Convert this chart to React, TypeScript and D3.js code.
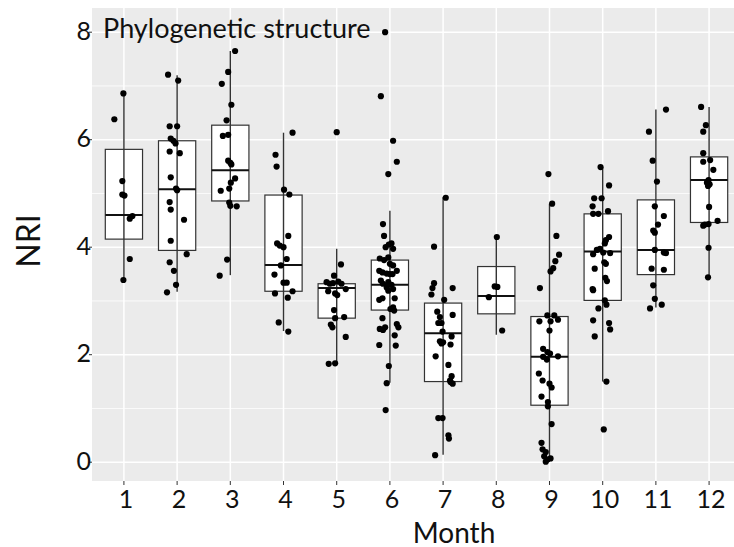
import React from "react";
import * as d3 from "d3";

const months = [1, 2, 3, 4, 5, 6, 7, 8, 9, 10, 11, 12];
const boxQ1 = [4.15, 3.94, 4.86, 3.18, 2.68, 2.83, 1.5, 2.76, 1.06, 3.01, 3.49, 4.46];
const boxMedian = [4.6, 5.08, 5.43, 3.67, 3.24, 3.3, 2.4, 3.09, 1.96, 3.92, 3.95, 5.25];
const boxQ3 = [5.82, 5.98, 6.27, 4.97, 3.32, 3.76, 2.96, 3.64, 2.71, 4.62, 4.88, 5.68];
const whiskerLow = [3.38, 3.17, 3.48, 2.44, 1.83, 1.48, 0.14, 2.37, 0.01, 1.5, 2.88, 3.45];
const whiskerHigh = [6.86, 7.2, 7.65, 6.13, 3.97, 4.68, 4.93, 4.19, 4.81, 5.49, 6.56, 6.61];

const nriValues: number[][] = [
  [6.86, 6.38, 5.23, 4.98, 4.96, 4.58, 4.53, 3.78, 3.39],
  [7.21, 7.1, 6.25, 6.25, 6.02, 5.98, 5.93, 5.78, 5.75, 5.3, 5.09, 5.06, 4.84, 4.7, 4.51, 4.12, 3.87, 3.72, 3.56, 3.3, 3.16],
  [7.65, 7.26, 7.04, 6.65, 6.36, 6.07, 6.09, 5.61, 5.57, 5.54, 5.28, 5.2, 5.09, 5.05, 4.83, 4.77, 4.76, 3.77, 3.47],
  [6.13, 5.72, 5.5, 5.07, 4.98, 4.21, 4.07, 4.03, 4.0, 3.78, 3.66, 3.49, 3.34, 3.34, 3.18, 3.14, 3.06, 2.6, 2.43],
  [6.14, 3.68, 3.47, 3.35, 3.32, 3.33, 3.36, 3.32, 3.22, 3.18, 3.14, 3.11, 2.83, 2.68, 2.7, 2.56, 2.51, 2.33, 1.83, 1.84],
  [8.0, 6.81, 5.98, 5.59, 5.36, 4.43, 4.21, 4.07, 4.05, 4.0, 3.97, 3.81, 3.79, 3.76, 3.69, 3.66, 3.56, 3.53, 3.51, 3.5, 3.5, 3.56,
    3.38, 3.32, 3.35, 3.3, 3.25, 3.19, 3.22, 3.02, 3.05, 3.05, 2.85, 2.82, 2.88, 2.68, 2.48, 2.46, 2.51, 2.57, 2.51, 2.36, 2.18, 2.17,
    1.79, 1.47, 0.97],
  [4.92, 4.01, 3.33, 3.24, 3.12, 3.24, 3.02, 2.8, 2.74, 2.7, 2.59, 2.59, 2.43, 2.34, 2.25, 2.23, 2.21, 2.19, 1.97, 1.81, 1.6, 1.52,
    1.49, 1.46, 0.82, 0.82, 0.5, 0.44, 0.13],
  [4.19, 3.27, 3.26, 3.07, 2.45],
  [5.36, 4.81, 4.21, 3.86, 3.74, 3.61, 3.55, 3.24, 2.73, 2.73, 2.65, 2.62, 2.62, 2.45, 2.11, 2.05, 2.02, 1.96, 1.91, 1.97, 1.65, 1.52,
    1.46, 1.39, 1.22, 1.12, 1.04, 0.71, 0.36, 0.24, 0.19, 0.11, 0.05, 0.07, 0.01],
  [5.49, 5.15, 4.91, 4.91, 4.76, 4.67, 4.62, 4.62, 4.19, 4.13, 4.07, 3.95, 3.97, 3.9, 3.89, 3.87, 3.72, 3.69, 3.6, 3.43, 3.37, 3.22,
    3.2, 3.01, 2.93, 2.86, 2.59, 2.47, 2.64, 2.34, 1.5, 0.61],
  [6.56, 6.15, 5.61, 5.22, 4.76, 4.58, 4.42, 4.31, 4.27, 3.95, 3.9, 3.89, 3.6, 3.58, 3.29, 3.04, 2.86, 2.93],
  [6.61, 6.27, 6.15, 5.75, 5.62, 5.59, 5.44, 5.25, 5.2, 5.17, 5.14, 4.75, 4.49, 4.43, 4.4, 4.42, 3.99, 3.44],
];

// horizontal jitter of each point, in month units
const nriJitter: number[][] = [
  [-0.01, -0.18, -0.03, -0.03, 0.01, 0.16, 0.11, 0.11, -0.01],
  [-0.17, 0.02, -0.14, 0.0, -0.12, -0.07, -0.03, -0.14, 0.05, -0.12, -0.02, 0.0, -0.14, -0.12, 0.13, -0.12, 0.18, -0.14, -0.06, -0.02, -0.19],
  [0.09, -0.04, -0.16, 0.02, -0.07, -0.14, -0.04, -0.04, 0.0, 0.02, 0.09, 0.01, -0.02, -0.18, -0.02, 0.0, 0.12, -0.06, -0.2],
  [0.17, -0.15, -0.13, 0.01, 0.11, 0.09, -0.12, -0.07, 0.0, 0.06, -0.05, -0.17, 0.0, 0.06, 0.17, -0.16, 0.08, -0.09, 0.09],
  [0.0, 0.08, -0.05, -0.19, -0.13, -0.07, 0.03, 0.09, 0.17, -0.16, -0.03, 0.01, -0.05, -0.03, 0.14, -0.11, -0.08, 0.17, -0.15, -0.03],
  [-0.09, -0.17, 0.06, 0.13, -0.03, -0.13, -0.11, 0.03, -0.02, -0.08, 0.06, -0.03, -0.19, -0.11, 0.0, 0.06, -0.2, -0.14, -0.06, 0.0, 0.05, 0.13,
    -0.17, -0.13, -0.03, 0.03, -0.06, -0.03, 0.06, -0.2, -0.14, 0.09, 0.01, 0.08, 0.06, -0.14, -0.19, -0.13, -0.09, 0.13, 0.16, 0.09, -0.2, 0.11,
    -0.02, -0.06, -0.08],
  [0.05, -0.17, -0.17, -0.2, -0.22, 0.18, 0.02, -0.11, 0.18, -0.06, -0.03, -0.09, -0.01, 0.16, -0.06, 0.0, -0.03, 0.14, -0.14, 0.1, 0.16, 0.13,
    0.14, 0.18, -0.09, -0.01, 0.1, 0.11, -0.15],
  [0.01, -0.03, 0.02, -0.14, 0.11],
  [-0.02, 0.05, 0.13, 0.18, 0.11, 0.07, 0.02, -0.18, -0.04, 0.09, 0.16, -0.19, 0.02, 0.0, -0.12, -0.04, 0.01, -0.12, -0.05, 0.16, -0.2, -0.13,
    0.0, 0.04, -0.15, -0.03, -0.03, 0.04, -0.15, -0.13, -0.07, -0.1, -0.04, 0.02, -0.07],
  [-0.04, 0.12, -0.16, -0.02, -0.19, 0.1, -0.18, -0.08, 0.12, 0.06, 0.04, -0.11, -0.05, 0.01, 0.14, -0.18, 0.03, 0.06, -0.15, 0.05, 0.08, -0.19,
    -0.18, 0.04, 0.07, -0.08, 0.12, 0.14, -0.18, -0.15, 0.07, 0.02],
  [0.19, -0.13, -0.06, 0.02, -0.02, 0.15, 0.04, -0.05, -0.02, -0.02, 0.15, 0.19, -0.08, 0.15, -0.05, -0.02, -0.11, 0.11],
  [-0.15, -0.06, -0.11, -0.11, 0.02, -0.11, 0.08, -0.01, -0.04, 0.01, -0.02, 0.0, 0.16, -0.01, -0.11, -0.08, -0.01, -0.02],
];

const yTicks = [0, 2, 4, 6, 8];
const yMinor = [1, 3, 5, 7];
const titleText = "Phylogenetic structure";
const xLabel = "Month";
const yLabel = "NRI";

const W = 734;
const H = 547;
const panel = { left: 92, right: 741, top: 8, bottom: 481 };
const FONT = "Lato, 'Open Sans', sans-serif";
const INK = "#111";

export default function App() {
  const x = d3.scaleLinear().domain([0.4, 12.6]).range([panel.left, panel.right]);
  const y = d3.scaleLinear().domain([-0.35, 8.45]).range([panel.bottom, panel.top]);
  const boxHalf = x(1.35) - x(1);

  return (
    <svg width={W} height={H} style={{ position: "absolute", left: 0, top: 0, background: "#fff" }}>
      <rect x={panel.left} y={panel.top} width={panel.right - panel.left} height={panel.bottom - panel.top} fill="#EBEBEB" />
      {yMinor.map((v) => (
        <line key={"mn" + v} x1={panel.left} x2={panel.right} y1={y(v)} y2={y(v)} stroke="#fff" strokeWidth={0.8} />
      ))}
      {yTicks.map((v) => (
        <line key={"mj" + v} x1={panel.left} x2={panel.right} y1={y(v)} y2={y(v)} stroke="#fff" strokeWidth={1.5} />
      ))}
      {months.map((m) => (
        <line key={"vx" + m} x1={x(m)} x2={x(m)} y1={panel.top} y2={panel.bottom} stroke="#fff" strokeWidth={1.5} />
      ))}
      {months.map((m, i) => (
        <g key={"box" + m}>
          <rect
            x={x(m) - boxHalf}
            y={y(boxQ3[i])}
            width={boxHalf * 2}
            height={y(boxQ1[i]) - y(boxQ3[i])}
            fill="#fff"
            stroke="#333"
            strokeWidth={1.2}
          />
          <line x1={x(m)} x2={x(m)} y1={y(whiskerHigh[i])} y2={y(whiskerLow[i])} stroke="#333" strokeWidth={1.4} />
          <line x1={x(m) - boxHalf} x2={x(m) + boxHalf} y1={y(boxMedian[i])} y2={y(boxMedian[i])} stroke="#111" strokeWidth={2} />
        </g>
      ))}
      {months.map((m, i) => (
        <g key={"pts" + m}>
          {nriValues[i].map((v, j) => (
            <circle key={j} cx={x(m + nriJitter[i][j])} cy={y(v)} r={3.1} fill="#000" />
          ))}
        </g>
      ))}
      {yTicks.map((v) => (
        <g key={"yt" + v}>
          <line x1={panel.left - 3} x2={panel.left} y1={y(v)} y2={y(v)} stroke="#333" strokeWidth={1} />
          <text x={panel.left - 1} y={y(v)} dy="0.3em" textAnchor="end" fontFamily={FONT} fontSize={25} fill={INK}>
            {v}
          </text>
        </g>
      ))}
      {months.map((m) => (
        <g key={"xt" + m}>
          <line x1={x(m)} x2={x(m)} y1={panel.bottom} y2={panel.bottom + 4} stroke="#333" strokeWidth={1} />
          <text x={x(m) + 2} y={508} textAnchor="middle" fontFamily={FONT} fontSize={25} fill={INK}>
            {m}
          </text>
        </g>
      ))}
      <text x={103} y={38} fontFamily={FONT} fontSize={27} fill={INK}>
        {titleText}
      </text>
      <text x={454} y={542.5} textAnchor="middle" fontFamily={FONT} fontSize={28} fill={INK}>
        {xLabel}
      </text>
      <text transform={`translate(40, 241) rotate(-90)`} textAnchor="middle" fontFamily={FONT} fontSize={32} fill={INK}>
        {yLabel}
      </text>
    </svg>
  );
}
